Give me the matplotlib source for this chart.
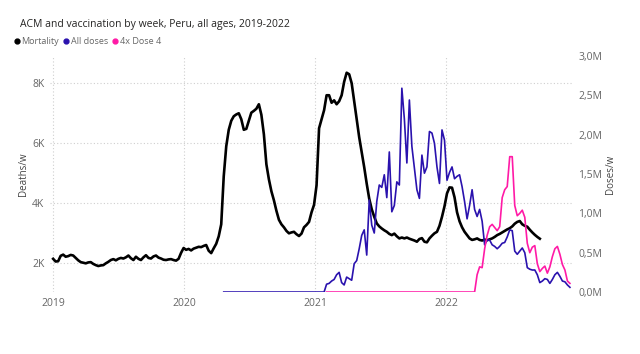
"""
ACM and vaccination by week for Peru, weekly mortality vs doses.
"""

import matplotlib.pyplot as plt
import numpy as np
import pandas as pd
import matplotlib.dates as mdates
from matplotlib.lines import Line2D
from matplotlib.ticker import FuncFormatter

plt.rcParams["font.family"] = ["Open Sans", "DejaVu Sans"]

# weekly all-cause mortality, from week starting 2019-01-01
mortality = [
    2150, 2060, 2070, 2250, 2290, 2220, 2240, 2280, 2260, 2180,
    2100, 2040, 2020, 2000, 2030, 2040, 1980, 1940, 1910, 1930,
    1940, 2000, 2050, 2110, 2140, 2100, 2150, 2180, 2160, 2200,
    2260, 2170, 2110, 2220, 2150, 2110, 2200, 2270, 2180, 2160,
    2230, 2260, 2190, 2160, 2120, 2110, 2130, 2140, 2110, 2090,
    2150, 2350, 2510, 2450, 2480, 2430, 2490, 2520, 2550, 2540,
    2580, 2610, 2420, 2340, 2500, 2650, 2900, 3300, 4900, 5900,
    6450, 6750, 6900, 6960, 7000, 6800, 6450, 6480, 6750, 7020,
    7080, 7150, 7300, 6950, 6300, 5300, 4800, 4400, 4100, 3750,
    3450, 3300, 3200, 3080, 3000, 3030, 3050, 2970, 2910, 2990,
    3200, 3280, 3380, 3700, 3950, 4600, 6500, 6800, 7100, 7600,
    7600, 7350, 7430, 7300, 7400, 7600, 8050, 8350, 8300, 8000,
    7400, 6800, 6200, 5700, 5200, 4650, 4150, 3800, 3550, 3330,
    3230, 3160, 3100, 3050, 2980, 2940, 2990, 2900, 2830, 2860,
    2830, 2860, 2820, 2790, 2760, 2720, 2810, 2840, 2720, 2700,
    2830, 2920, 3000, 3050, 3250, 3550, 3900, 4330, 4530, 4520,
    4200, 3700, 3400, 3200, 3050, 2940, 2830, 2780, 2800, 2830,
    2780, 2760, 2790, 2770, 2800, 2830, 2880, 2940, 2980, 3030,
    3080, 3130, 3170, 3230, 3320, 3380, 3410, 3300, 3250, 3220,
    3120, 3030, 2950, 2880, 2820,
]

# all doses per week (millions), first week index 68
doses_start = 68
all_doses = [0.0] * 41 + [
    0.10, 0.11, 0.14, 0.16, 0.22, 0.25, 0.12, 0.09, 0.19, 0.17,
    0.15, 0.36, 0.40, 0.55, 0.72, 0.79, 0.47, 1.17, 0.85, 0.75,
    1.15, 1.36, 1.33, 1.49, 1.20, 1.78, 1.02, 1.10, 1.40, 1.36,
    2.59, 2.20, 1.64, 2.44, 1.85, 1.58, 1.30, 1.19, 1.74, 1.51,
    1.59, 2.04, 2.02, 1.89, 1.59, 1.38, 2.06, 1.93, 1.42, 1.52,
    1.59, 1.44, 1.47, 1.49, 1.34, 1.15, 0.93, 1.10, 1.30, 1.05,
    0.96, 1.05, 0.90, 0.60, 0.66, 0.66, 0.60, 0.58, 0.55, 0.58,
    0.62, 0.63, 0.70, 0.79, 0.78, 0.52, 0.48, 0.52, 0.56, 0.50,
    0.31, 0.29, 0.28, 0.28, 0.22, 0.12, 0.14, 0.17, 0.16, 0.11,
    0.16, 0.22, 0.25, 0.20, 0.14, 0.13, 0.09, 0.06,
]

# 4x dose 4 per week (millions), first week index 109
dose4_start = 109
dose4 = [0.0] * 60 + [
    0.22, 0.32, 0.31, 0.55, 0.72, 0.83, 0.86, 0.82, 0.78, 0.83,
    1.20, 1.30, 1.34, 1.72, 1.72, 1.10, 0.97, 1.00, 1.04, 0.95,
    0.62, 0.50, 0.57, 0.59, 0.36, 0.26, 0.30, 0.33, 0.24, 0.32,
    0.45, 0.55, 0.58, 0.48, 0.35, 0.28, 0.14, 0.11,
]

weeks = pd.date_range("2019-01-01", periods=210, freq="7D")

mort_dates = weeks[: len(mortality)]
dose_dates = weeks[doses_start : doses_start + len(all_doses)]
dose4_dates = weeks[dose4_start : dose4_start + len(dose4)]

black = "#000000"
blue = "#2A12AE"
pink = "#FF1AA6"
grey = "#666666"

fig = plt.figure(figsize=(6.4, 3.54), dpi=100)
ax = fig.add_axes([0.078, 0.175, 0.817, 0.667])
ax2 = ax.twinx()

ax.plot(mort_dates, mortality, color=black, lw=1.9, zorder=3)
ax2.plot(dose_dates, np.array(all_doses) * 1e6, color=blue, lw=1.2)
ax2.plot(dose4_dates, np.array(dose4) * 1e6, color=pink, lw=1.2)

ax.set_xlim(pd.Timestamp("2018-12-23"), pd.Timestamp("2022-12-21"))
ax.set_ylim(1043, 8910)
ax2.set_ylim(0, 3.0e6)

ax.set_yticks([2000, 4000, 6000, 8000])
ax.yaxis.set_major_formatter(FuncFormatter(lambda v, p: f"{int(v / 1000)}K"))
ax2.set_yticks(np.arange(0, 3.01e6, 0.5e6))
ax2.yaxis.set_major_formatter(
    FuncFormatter(lambda v, p: f"{v / 1e6:.1f}M".replace(".", ","))
)
ax.xaxis.set_major_locator(mdates.YearLocator())
ax.xaxis.set_major_formatter(mdates.DateFormatter("%Y"))

for a in (ax, ax2):
    for s in a.spines.values():
        s.set_visible(False)
    a.tick_params(length=0, labelsize=7.5, colors=grey, pad=4)

ax.grid(True, color="#cfcfcf", ls=(0, (1, 2)), lw=0.8)
ax.set_axisbelow(True)

ax.set_ylabel("Deaths/w", fontsize=7, color="#444444", labelpad=2)
ax2.set_ylabel("Doses/w", fontsize=7, color="#444444", labelpad=2)

fig.text(0.031, 0.932, "ACM and vaccination by week, Peru, all ages, 2019-2022",
         fontsize=7.5, color="#252423", va="center")

handles = [
    Line2D([], [], ls="none", marker="o", ms=3.5, color=c)
    for c in (black, blue, pink)
]
fig.legend(handles, ["Mortality", "All doses", "4x Dose 4"],
           loc="center left", bbox_to_anchor=(0.022, 0.882), ncol=3,
           frameon=False, fontsize=6.5, labelcolor=grey,
           handlelength=0.6, handletextpad=0.2, columnspacing=0.5,
           borderpad=0, borderaxespad=0)

fig.savefig("out.png", dpi=100)
